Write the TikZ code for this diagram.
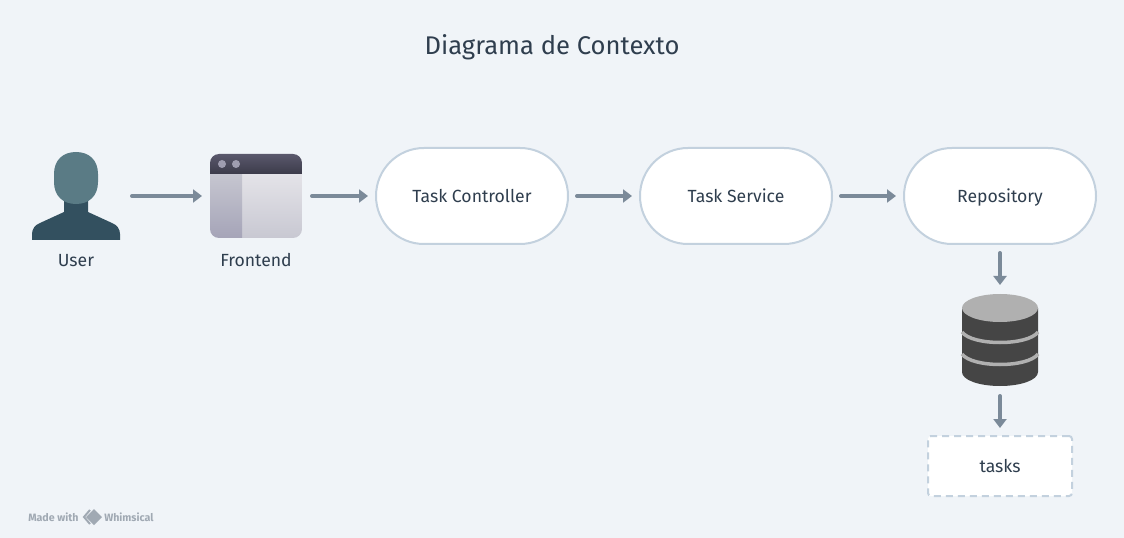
\documentclass[tikz,border=0pt]{standalone}
\usepackage{fontspec}
\setmainfont{Fira Sans}
\usetikzlibrary{positioning, arrows.meta, calc}

\definecolor{pagebg}{HTML}{F0F4F8}
\definecolor{boxline}{HTML}{C3D1DE}
\definecolor{arrowgray}{HTML}{7B8A99}
\definecolor{inktext}{HTML}{2F3E4E}
\definecolor{headcol}{HTML}{5A7B85}
\definecolor{bodycol}{HTML}{33505F}
\definecolor{dbdark}{HTML}{454545}
\definecolor{dblight}{HTML}{B0B0B0}
\definecolor{markgray}{HTML}{A0A9B3}
\definecolor{barTop}{HTML}{5A586C}
\definecolor{barBottom}{HTML}{3C3B4A}
\definecolor{sideTop}{HTML}{C6C6D0}
\definecolor{sideBottom}{HTML}{A5A4B8}
\definecolor{mainTop}{HTML}{E4E3E8}
\definecolor{mainBottom}{HTML}{C8C8D2}
\definecolor{dotcol}{HTML}{9F9DB0}

\def\raster{0.75pt}

\tikzset{
    pill/.style={draw=boxline, fill=white, line width=2*\raster, rounded corners=48*\raster,
        minimum width=192*\raster, minimum height=96*\raster, text=inktext,
        text height=9.5pt, text depth=0pt, font=\fontsize{13.2}{15}\selectfont},
    icon/.style={minimum width=#1*\raster, inner sep=0pt, outer sep=0pt},
    caption/.style={text=inktext, text height=9.5pt, text depth=0pt,
        font=\fontsize{13.2}{15}\selectfont, inner sep=0pt},
    flow/.style={draw=arrowgray, line width=4*\raster, line cap=round,
        -{Triangle[length=9*\raster, width=13*\raster]}, shorten <=8*\raster, shorten >=7*\raster},
    brand/.style={text=markgray, font=\fontsize{8}{9}\selectfont\bfseries, inner sep=0pt, anchor=west}
}

\begin{document}
\begin{tikzpicture}[x=\raster, y=-\raster]
    % page
    \fill[pagebg] (0,0) rectangle (1124,538);
    \useasboundingbox (0,0) rectangle (1124,538);

    \node[text=inktext, text height=13.5pt, text depth=0pt, font=\fontsize{19.2}{22}\selectfont,
        inner sep=0pt] (title) at (552,46) {Diagrama de Contexto};

    % boxes
    \node[icon=88, minimum height=88*\raster] (user) at (76,196) {};
    \node[icon=92, minimum height=84*\raster] (frontend) at (256,196) {};
    \node[pill] (controller) at (472,196) {Task Controller};
    \node[pill] (service) at (736,196) {Task Service};
    \node[pill] (repository) at (1000,196) {Repository};
    \node[icon=76, minimum height=92*\raster] (database) at (1000,340) {};
    \node[draw=boxline, fill=white, line width=2*\raster, dash pattern=on 7*\raster off 5*\raster,
        rounded corners=3*\raster, minimum width=144*\raster, minimum height=60*\raster,
        text=inktext, text height=9.5pt, text depth=0pt,
        font=\fontsize{13.2}{15}\selectfont] (tasks) at (1000,466) {tasks};

    \node[caption] (userlabel) at (76,260) {User};
    \node[caption] (frontendlabel) at (256,260) {Frontend};

    % user icon
    \fill[bodycol] (64,200) -- (88,200) -- (88,212) -- (112,223)
        .. controls (117,225) and (120,229) .. (120,234) -- (120,240) -- (32,240) -- (32,234)
        .. controls (32,229) and (35,225) .. (40,223) -- (64,212) -- cycle;
    \fill[headcol] (54,174) .. controls (54,160) and (63,152) .. (76,152)
        .. controls (89,152) and (98,160) .. (98,174) -- (98,182)
        .. controls (98,196) and (89,204) .. (76,204)
        .. controls (63,204) and (54,196) .. (54,182) -- cycle;

    % frontend icon
    \begin{scope}
        \clip[rounded corners=9*\raster] (210,154) rectangle (302,238);
        \shade[top color=mainTop, bottom color=mainBottom] (242,174) rectangle (302,238);
        \shade[top color=sideTop, bottom color=sideBottom] (210,174) rectangle (242,238);
        \shade[top color=barTop, bottom color=barBottom] (210,154) rectangle (302,174);
    \end{scope}
    \foreach \dotx in {222,236}
    {
        \fill[dotcol] (\dotx,164) circle (4*\raster);
    }

    % database icon
    \fill[dbdark] (962,308) -- (1038,308) -- (1038,372)
        .. controls (1038,380) and (1021,386) .. (1000,386)
        .. controls (979,386) and (962,380) .. (962,372) -- cycle;
    \foreach \bandy in {332,354}
    {
        \draw[dblight, line width=3.5*\raster] (962,\bandy)
            .. controls (972,\bandy+14) and (1028,\bandy+14) .. (1038,\bandy);
    }
    \fill[dblight] (1000,308) ellipse [x radius=38*\raster, y radius=14*\raster];

    % arrows
    \draw[flow, shorten <=12*\raster, shorten >=8*\raster] (user) -- (frontend);
    \draw[flow, shorten <=10*\raster] (frontend) -- (controller);
    \draw[flow] (controller) -- (service);
    \draw[flow] (service) -- (repository);
    \draw[flow, shorten >=9*\raster] (repository) -- (database);
    \draw[flow, shorten <=10*\raster] (database) -- (tasks);

    % whimsical mark
    \node[brand] (madewith) at (28,517) {Made with};
    \node[brand] (whimsical) at (104,517) {Whimsical};
    \draw[markgray, line width=2*\raster] (90,510) -- (84,517) -- (90,524);
    \fill[markgray] (94,509) -- (102,517) -- (94,525) -- (86,517) -- cycle;
\end{tikzpicture}
\end{document}
